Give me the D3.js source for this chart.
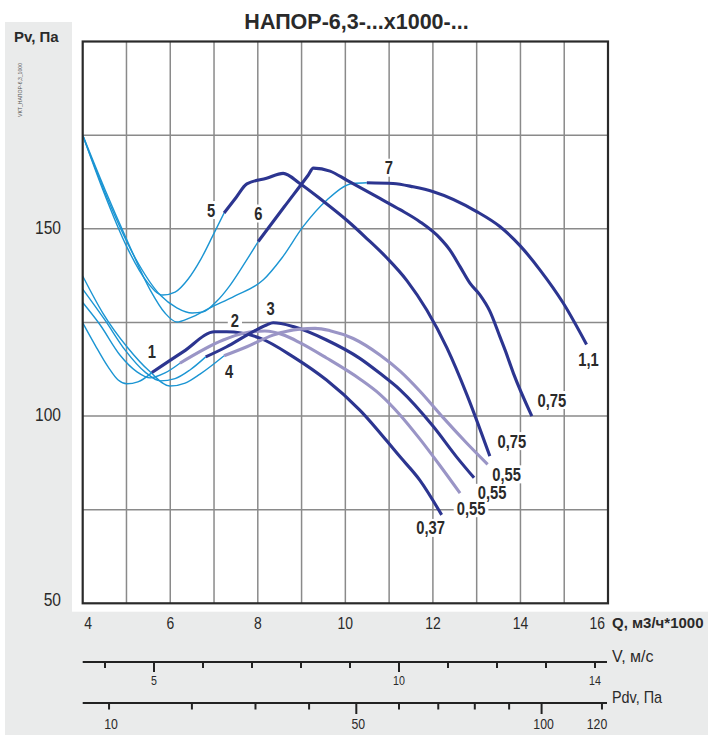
<!DOCTYPE html>
<html><head><meta charset="utf-8">
<script src="https://cdn.jsdelivr.net/npm/d3@7/dist/d3.min.js"></script>
<style>
body{margin:0;background:#fff}
svg{display:block}
text{font-family:"Liberation Sans",Arial,sans-serif;fill:#2a2a2a}
</style>
</head><body>
<svg id="c" width="708" height="735"></svg>
<script>
// ---------------- data ----------------
const title = "НАПОР-6,3-...x1000-...";
const sideNote = "VKT_НАПОР-6,3_1000";
const yTitle = "Pv, Па";
const qTitle = "Q, м3/ч*1000";
const vTitle = "V, м/с";
const pdvTitle = "Pdv, Па";
const qTicks = [4, 6, 8, 10, 12, 14, 16];
const qGrid = [5, 6, 7, 8, 9, 10, 11, 12, 13, 14, 15];
const pTicks = [50, 100, 150];
const pGrid = [75, 100, 125, 150, 175];
const vTicks = [4, 5, 6, 7, 8, 9, 10, 11, 12, 13, 14];
const vLabels = [5, 10, 14];
const pdvTicks = [10, 20, 30, 40, 50, 60, 70, 80, 90, 100, 120];
const pdvLabels = [10, 50, 100, 120];

const fanNames = ["1", "2", "3", "4", "5", "6", "7"];
const fanPowers = ["0,37", "0,55", "0,55", "0,55", "0,75", "0,75", "1,1"];

// stall (thin) parts [Q, Pv]
const fan1Stall = [[4.0,124.9],[4.28,119.0],[4.58,113.1],[4.81,109.6],[5.01,108.6],[5.26,109.1],[5.58,111.6]];
const fan2Stall = [[4.0,130.3],[4.40,124.3],[4.85,116.3],[5.24,111.8],[5.54,110.2],[5.88,111.5],[6.22,114.1]];
const fan3Stall = [[4.0,133.9],[4.51,125.6],[4.97,117.6],[5.42,111.8],[5.77,109.4],[6.11,110.0],[6.45,112.3],[6.81,115.8]];
const fan4Stall = [[4.0,137.4],[4.46,127.5],[5.01,118.5],[5.54,111.8],[5.99,108.0],[6.34,108.8],[6.68,111.2],[7.23,116.1]];
const fan5Stall = [[4.0,175.0],[4.46,160.4],[5.01,145.1],[5.47,135.8],[5.83,132.3],[6.11,133.1],[6.41,136.6],[6.70,141.9],[6.97,148.1],[7.23,154.2]];
const fan6Stall = [[4.0,175.0],[4.58,157.7],[5.20,142.2],[5.77,132.3],[6.15,128.9],[6.50,127.5],[6.75,127.8],[7.05,130.5],[7.34,134.5],[7.66,140.1],[8.01,146.6]];
const fan7Stall = [[4.0,175.0],[4.51,160.4],[5.01,147.0],[5.54,133.7],[5.88,127.5],[6.15,125.1],[6.45,126.2],[6.91,128.9],[7.48,132.1],[8.12,136.3],[8.55,142.2],[9.03,150.5],[9.58,157.7],[10.17,162.1],[10.49,162.3]];

// working (thick) parts [Q, Pv]
const fan1Work = [[5.58,111.6],[6.30,117.2],[7.02,122.5],[7.29,122.5],[8.05,120.8],[8.81,115.8],[9.57,109.6],[10.33,101.6],[11.25,89.1],[11.70,82.9],[12.20,73.6]];
const fan2Work = [[6.22,114.1],[7.21,120.3],[7.67,122.1],[8.16,122.7],[8.62,121.5],[8.96,119.6],[9.57,115.5],[10.33,109.9],[10.79,105.8],[11.25,100.3],[11.70,93.9],[12.16,86.8],[12.62,79.4]];
const fan3Work = [[6.81,115.8],[7.29,118.5],[7.75,121.6],[8.20,124.3],[8.35,124.9],[8.81,123.9],[9.57,120.3],[10.33,115.4],[10.79,111.4],[11.25,107.0],[12.01,97.2],[12.54,89.1],[12.94,83.5]];
const fan4Work = [[7.23,116.1],[7.75,118.5],[8.35,121.6],[8.96,123.2],[9.31,123.4],[9.65,122.8],[10.18,120.7],[10.79,116.3],[11.25,112.0],[11.70,106.7],[12.24,99.5],[12.77,92.8],[13.25,87.1]];
const fan5Work = [[7.23,154.2],[7.50,158.3],[7.75,162.0],[8.20,163.5],[8.58,164.8],[8.96,162.1],[9.49,157.4],[10.04,152.2],[10.49,147.4],[10.95,142.2],[11.41,136.1],[11.86,128.3],[12.32,118.2],[12.78,105.6],[13.30,89.3]];
const fan6Work = [[8.01,146.6],[8.60,155.8],[9.15,164.3],[9.27,166.2],[9.65,165.4],[10.03,163.0],[10.79,158.1],[11.25,155.1],[11.70,151.9],[12.16,147.5],[12.39,144.3],[12.62,139.9],[12.85,135.4],[13.07,132.4],[13.30,128.0],[13.53,121.2],[13.65,117.6],[13.84,111.4],[14.26,100.0]];
const fan7Work = [[10.49,162.3],[11.09,162.1],[11.55,161.2],[12.01,159.9],[13.0,154.6],[13.53,150.6],[13.99,145.5],[14.44,139.1],[14.98,130.1],[15.51,119.1]];

// ---------------- layout / style ----------------
const BG = "#eaebeb";
const THIN = "#1b95d3", NAVY = "#2c3590", LAV = "#9a95c6";
const fans = [
  {name: fanNames[0], power: fanPowers[0], stall: fan1Stall, work: fan1Work, color: NAVY, nameOff: [0,-21],  powOff: [-11,13]},
  {name: fanNames[1], power: fanPowers[1], stall: fan2Stall, work: fan2Work, color: LAV,  nameOff: [55,-43], powOff: [11,15]},
  {name: fanNames[2], power: fanPowers[2], stall: fan3Stall, work: fan3Work, color: NAVY, nameOff: [65,-48], powOff: [18,15]},
  {name: fanNames[3], power: fanPowers[3], stall: fan4Stall, work: fan4Work, color: LAV,  nameOff: [5,16],   powOff: [19,10]},
  {name: fanNames[4], power: fanPowers[4], stall: fan5Stall, work: fan5Work, color: NAVY, nameOff: [-13,-3], powOff: [22,-15]},
  {name: fanNames[5], power: fanPowers[5], stall: fan6Stall, work: fan6Work, color: NAVY, nameOff: [0,-28],  powOff: [20,-16]},
  {name: fanNames[6], power: fanPowers[6], stall: fan7Stall, work: fan7Work, color: NAVY, nameOff: [22,-15], powOff: [2,15]}
];

const X0 = 82.7, X1 = 608, Y0 = 603.3, Y1 = 41.5;
const x = d3.scaleLinear().domain([4, 16]).range([X0, X1]);
const y = d3.scaleLinear().domain([50, 200]).range([Y0, Y1]);
const vx = d3.scaleLinear().domain([4, 14]).range([105, 595]);
const pdvx = p => vx(Math.sqrt(p / 0.6));
const NARROW = 0.82;

const svg = d3.select("#c");
svg.append("rect").attr("width", 708).attr("height", 735).attr("fill", "#fff");
svg.append("rect").attr("x", 5).attr("y", 22).attr("width", 67).attr("height", 713).attr("fill", BG);
svg.append("rect").attr("x", 5).attr("y", 611.7).attr("width", 703).attr("height", 123.3).attr("fill", BG);

function txt(g, s, cx, base, size, opt = {}) {
  const sx = opt.sx ?? 1;
  return g.append("text")
    .attr("transform", `translate(${cx},${base}) scale(${sx},1)`)
    .attr("text-anchor", opt.anchor || "middle")
    .attr("font-size", size)
    .attr("font-weight", opt.weight || "normal")
    .text(s);
}

// title
txt(svg, title, 356.5, 28.5, 21.5, {weight: "bold"});
txt(svg, yTitle, 14, 41.7, 15, {weight: "bold", anchor: "start"});
svg.append("text")
  .attr("transform", "translate(22,117) rotate(-90)")
  .attr("font-size", 5.5)
  .attr("textLength", 54).attr("lengthAdjust", "spacingAndGlyphs")
  .style("fill", "#555")
  .text(sideNote);

// grid
const grid = svg.append("g").attr("stroke", "#8a8a8a").attr("stroke-width", 1.5);
grid.selectAll(".gx").data(qGrid).join("line")
  .attr("x1", d => x(d)).attr("x2", d => x(d)).attr("y1", Y1).attr("y2", Y0);
grid.selectAll(".gy").data(pGrid).join("line")
  .attr("x1", X0).attr("x2", X1).attr("y1", d => y(d)).attr("y2", d => y(d));

// y labels
pTicks.forEach(v => txt(svg, String(v), 61, Math.min(y(v) - 2, 599) + 6.8, 19, {anchor: "end", sx: NARROW}));
// x labels
qTicks.forEach((q, i) => {
  let cx = x(q), anchor = "middle";
  if (i === 0) { cx = X0 + 1.5; anchor = "start"; }
  if (i === qTicks.length - 1) { cx = X1 - 3; anchor = "end"; }
  txt(svg, String(q), cx, 628.5, 17, {anchor, sx: NARROW});
});
txt(svg, qTitle, 612, 628, 15, {weight: "bold", anchor: "start"});

// curves
const line = d3.line().x(d => x(d[0])).y(d => y(d[1])).curve(d3.curveMonotoneX);
const cg = svg.append("g").attr("fill", "none").attr("stroke-linecap", "butt").attr("stroke-linejoin", "round");
fans.forEach(f => {
  cg.append("path").attr("d", line(f.stall)).attr("stroke", THIN).attr("stroke-width", 1.4);
});
fans.forEach(f => {
  cg.append("path").attr("d", line(f.work)).attr("stroke", f.color).attr("stroke-width", 3.1);
});

// labels with white boxes
const lg = svg.append("g");
function boxLabel(s, cx, cy) {
  const size = 18;
  const t = txt(lg, s, cx, cy + 0.36 * size, size, {weight: "bold", sx: NARROW});
  const w = t.node().getComputedTextLength() * NARROW;
  lg.insert("rect", "text").attr("x", cx - w / 2 - 3).attr("y", cy - 9).attr("width", w + 6).attr("height", 18).attr("fill", "#fff");
}
fans.forEach(f => {
  const s = f.work[0], e = f.work[f.work.length - 1];
  boxLabel(f.name, x(s[0]) + f.nameOff[0], y(s[1]) + f.nameOff[1]);
  boxLabel(f.power, x(e[0]) + f.powOff[0], y(e[1]) + f.powOff[1]);
});

// border
svg.append("rect").attr("x", X0).attr("y", Y1).attr("width", X1 - X0).attr("height", Y0 - Y1)
  .attr("fill", "none").attr("stroke", "#2a2a2a").attr("stroke-width", 2.2);

// V axis
const ax = svg.append("g").attr("stroke", "#222").attr("stroke-width", 2);
const VY = 662, PY = 703;
ax.append("line").attr("x1", X0).attr("x2", 607).attr("y1", VY).attr("y2", VY);
ax.selectAll(".vt").data(vTicks).join("line")
  .attr("x1", d => vx(d)).attr("x2", d => vx(d)).attr("y1", VY)
  .attr("y2", d => VY + (d % 5 === 0 ? 10 : 6));
vLabels.forEach(v => txt(svg, String(v), vx(v), 685, 13, {sx: NARROW}));
txt(svg, vTitle, 612, 661.5, 16, {anchor: "start", sx: 1.0});

// Pdv axis
ax.append("line").attr("x1", X0).attr("x2", 607).attr("y1", PY).attr("y2", PY);
ax.selectAll(".pt").data(pdvTicks).join("line")
  .attr("x1", d => pdvx(d)).attr("x2", d => pdvx(d)).attr("y1", PY)
  .attr("y2", d => PY + (d % 50 === 0 ? 11 : 6.5));
pdvLabels.forEach((p, i) => {
  let cx = pdvx(p) + 2;
  if (i === pdvLabels.length - 1) cx = pdvx(p) - 5;
  txt(svg, String(p), cx, 729, 15, {sx: NARROW});
});
txt(svg, pdvTitle, 612, 702.5, 16, {anchor: "start", sx: 0.9});
</script>
</body></html>
